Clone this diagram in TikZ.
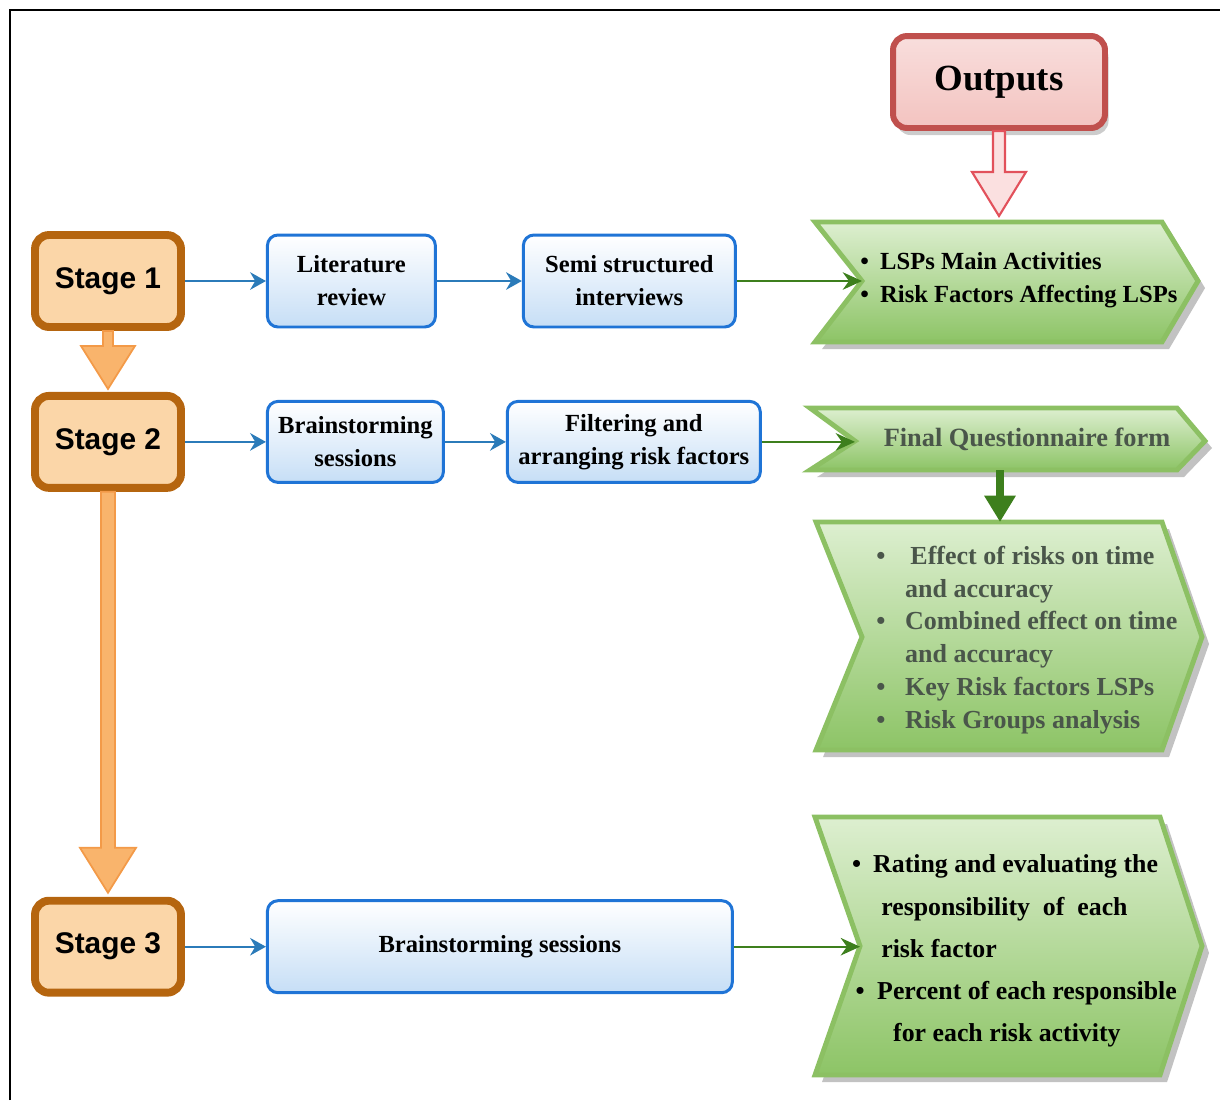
\documentclass[tikz,border=0pt]{standalone}
\usepackage{fontspec}
\setmainfont{Liberation Serif}
\setsansfont{Liberation Sans}
\usepackage{tikz}
\usetikzlibrary{positioning, arrows.meta, calc, shadows}

\definecolor{stageline}{HTML}{B5650F}
\definecolor{stagefill}{HTML}{FBD6A8}
\definecolor{orangeline}{HTML}{F39A48}
\definecolor{orangefill}{HTML}{F9B46C}
\definecolor{boxline}{HTML}{1F74D6}
\definecolor{boxfill}{HTML}{C6DEF6}
\definecolor{linkblue}{HTML}{2B7BB9}
\definecolor{outline}{HTML}{C0504D}
\definecolor{outfill}{HTML}{F3C3C0}
\definecolor{pinkline}{HTML}{E2515B}
\definecolor{pinkfill}{HTML}{FBE0E0}
\definecolor{chevline}{HTML}{8CC063}
\definecolor{chevtop}{HTML}{DDEFD0}
\definecolor{chevbot}{HTML}{8DC466}
\definecolor{linkgreen}{HTML}{3D7F1D}
\definecolor{greytext}{HTML}{4A564A}

\begin{document}
\begin{tikzpicture}[
      x=0.02cm, y=-0.02cm,
      stage/.style={
          draw=stageline, fill=stagefill, line width=4.5pt,
          rounded corners=8pt, minimum width=2.92cm,
          minimum height=1.84cm,
          font=\sffamily\bfseries\fontsize{17}{20}\selectfont
        },
      task/.style={
          draw=boxline, line width=1.7pt, rounded corners=6pt,
          top color=white, bottom color=boxfill, align=center,
          font=\bfseries\fontsize{14}{18.7}\selectfont
        },
      outbox/.style={
          draw=outline, line width=3.4pt, rounded corners=8pt,
          top color=outfill!55!white, bottom color=outfill,
          minimum width=4.24cm, minimum height=1.84cm,
          font=\bfseries\fontsize{21}{24}\selectfont,
          drop shadow={shadow xshift=2pt, shadow yshift=-4pt,
              fill=black!40, opacity=.5}
        },
      chevron/.style={
          draw=chevline, line width=2.8pt, line join=miter,
          top color=chevtop, bottom color=chevbot,
          drop shadow={shadow xshift=4pt, shadow yshift=-4pt,
              fill=black!40, opacity=.6}
        },
      chevtext/.style={
          anchor=west, align=left, inner sep=0pt,
          font=\bfseries\fontsize{14.7}{18.7}\selectfont
        },
      bluearrow/.style={->, line width=1.1pt, draw=linkblue,
          >={Stealth[length=9pt, width=10pt]}},
      greenarrow/.style={->, line width=1.1pt, draw=linkgreen,
          >={Stealth[length=11pt, width=10pt]}},
      fatgreen/.style={line width=4.5pt, draw=linkgreen,
          -{Triangle[width=17pt, length=15pt]}},
      blockarrow/.style={draw=orangeline, fill=orangefill,
          line width=1pt, line join=miter},
      pinkarrow/.style={draw=pinkline, fill=pinkfill,
          line width=1.2pt, line join=miter}
    ]
    \useasboundingbox (0,0) rectangle (1220,1100);
    \draw[line width=1.2pt] (10,1100) -- (10,10) -- (1220,10);

    % ── Stages (left column) ──
    \node[stage] (s1) at (108,281) {Stage 1};
    \node[stage, below=1.22cm of s1] (s2) {Stage 2};
    \node[stage, below=8.1cm of s2] (s3) {Stage 3};

    % ── Methods ──
    \node[task, minimum width=3.36cm, minimum height=1.84cm,
      right=1.62cm of s1] (lit) {Literature\\review};
    \node[task, minimum width=4.24cm, minimum height=1.84cm,
      right=1.7cm of lit] (semi) {Semi structured\\interviews};
    \node[task, minimum width=3.52cm, minimum height=1.62cm,
      right=1.62cm of s2] (brain) {Brainstorming\\sessions};
    \node[task, minimum width=5.06cm, minimum height=1.62cm,
      right=1.22cm of brain] (filt) {Filtering and\\arranging risk factors};
    \node[task, minimum width=9.3cm, minimum height=1.84cm,
      right=1.62cm of s3] (brainb) {Brainstorming sessions};

    % ── Outputs ──
    \node[outbox] (outp) at (999,82) {Outputs};

    \draw[chevron] (815,222) -- (1162,222) -- (1198,281) -- (1162,342)
    -- (815,342) -- (862,281) coordinate (ch1in) -- cycle;
    \coordinate (ch1top) at (999,222);
    \node[chevtext, font=\bfseries\fontsize{14}{18.7}\selectfont]
    (out1) at (860,280)
    {\makebox[11.3pt][l]{\textbullet}LSPs Main Activities\\
      \makebox[11.3pt][l]{\textbullet}Risk Factors Affecting LSPs};

    \draw[chevron] (810,408) -- (1177,408) -- (1205,441) -- (1177,470)
    -- (810,470) -- (855,441) coordinate (ch2in) -- cycle;
    \coordinate (ch2bot) at (1000,470);
    \node[font=\bfseries\fontsize{15}{18}\selectfont, text=greytext]
    (out2) at (1027,439) {Final Questionnaire form};

    \draw[chevron] (816,522) -- (1162,522) -- (1202,637) -- (1162,750)
    -- (816,750) -- (862,637) coordinate (ch3in) -- cycle;
    \coordinate (ch3top) at (1000,522);
    \node[chevtext, text=greytext, font=\bfseries\fontsize{14.8}{18.7}\selectfont]
    (out3) at (876,640)
    {\makebox[16.4pt][l]{\textbullet}\hspace{3pt}Effect of risks on time\\
      \hspace*{16.4pt}and accuracy\\
      \makebox[16.4pt][l]{\textbullet}Combined effect on time\\
      \hspace*{16.4pt}and accuracy\\
      \makebox[16.4pt][l]{\textbullet}Key Risk factors LSPs\\
      \makebox[16.4pt][l]{\textbullet}Risk Groups analysis};

    \draw[chevron] (815,817) -- (1160,817) -- (1202,946) -- (1160,1075)
    -- (815,1075) -- (860,946) coordinate (ch4in) -- cycle;
    \node[chevtext, font=\bfseries\fontsize{14.7}{24}\selectfont]
    (out4) at (850,951)
    {\makebox[13pt][l]{\hspace{1pt}\textbullet}Rating and evaluating the\\
      \hspace*{17.6pt}responsibility\ \ of\ \ each\\
      \hspace*{17.6pt}risk factor\\
      \makebox[15.3pt][l]{\hspace{3pt}\textbullet}Percent of each responsible\\
      \hspace*{24.4pt}for each risk activity};

    % ── Block arrows ──
    \draw[blockarrow] ($(s1.south)+(-5,0)$) -- ($(s1.south)+(-5,15)$)
    -- ($(s1.south)+(-27,15)$) -- ($(s2.north)+(0,-3)$)
    -- ($(s1.south)+(27,15)$) -- ($(s1.south)+(5,15)$)
    -- ($(s1.south)+(5,0)$) -- cycle;
    \draw[blockarrow] ($(s2.south)+(-7,0)$) -- ($(s2.south)+(-7,356)$)
    -- ($(s2.south)+(-28,356)$) -- ($(s3.north)+(0,-4)$)
    -- ($(s2.south)+(28,356)$) -- ($(s2.south)+(7,356)$)
    -- ($(s2.south)+(7,0)$) -- cycle;
    \draw[pinkarrow] ($(outp.south)+(-6,0)$) -- ($(outp.south)+(-6,41)$)
    -- ($(outp.south)+(-27,41)$) -- ($(ch1top)+(0,-6)$)
    -- ($(outp.south)+(27,41)$) -- ($(outp.south)+(6,41)$)
    -- ($(outp.south)+(6,0)$) -- cycle;
    \draw[fatgreen] (ch2bot) -- (ch3top);

    % ── Connectors ──
    \draw[bluearrow] (s1) -- (lit);
    \draw[bluearrow] (lit) -- (semi);
    \draw[bluearrow] (s2) -- (brain);
    \draw[bluearrow] (brain) -- (filt);
    \draw[bluearrow] (s3) -- (brainb);
    \draw[greenarrow] (semi.east) -- (semi.east -| ch1in);
    \draw[greenarrow] (filt.east) -- (filt.east -| ch2in);
    \draw[greenarrow] (brainb.east) -- (brainb.east -| ch4in);

  \end{tikzpicture}
\end{document}
